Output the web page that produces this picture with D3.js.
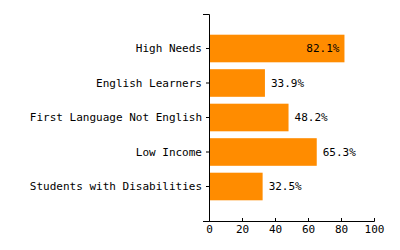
<!DOCTYPE html>
<html>
<head>
<meta charset="utf-8">
<script src="https://cdn.jsdelivr.net/npm/d3@7"></script>
<style>
  body { margin: 0; background: #fff; }
  text { font-family: "DejaVu Sans Mono", monospace; font-size: 11px; fill: #000; }
  .axis text { font-family: "DejaVu Sans Mono", monospace; font-size: 11px; }
</style>
</head>
<body>
<script>
var categories = ["High Needs", "English Learners", "First Language Not English", "Low Income", "Students with Disabilities"];
var values = [82.1, 33.9, 48.2, 65.3, 32.5];
var xTicks = [0, 20, 40, 60, 80, 100];

var svgWidth = 400;
var svgHeight = 250;
var margin = { top: 14, right: 26, bottom: 29, left: 209 };
var width = svgWidth - margin.left - margin.right;
var height = svgHeight - margin.top - margin.bottom;

var svg = d3.select("body")
  .append("svg")
  .attr("width", svgWidth)
  .attr("height", svgHeight)
  .append("g")
  .attr("transform", "translate(" + margin.left + "," + margin.top + ")");

var data = categories.map(function(c, i) { return { name: c, value: values[i] }; });

var x = d3.scaleLinear().domain([0, 100]).range([0, width]);
var y = d3.scaleBand().domain(categories).range([0, height])
  .paddingInner(0.2).paddingOuter(0.6);

// bars
svg.selectAll(".bar")
  .data(data)
  .enter().append("rect")
  .attr("class", "bar")
  .attr("x", 0)
  .attr("y", function(d) { return y(d.name); })
  .attr("width", function(d) { return x(d.value); })
  .attr("height", y.bandwidth())
  .attr("fill", "#ff8c00");

// value labels: inside the bar if it is long, otherwise just past its end
svg.selectAll(".label")
  .data(data)
  .enter().append("text")
  .attr("class", "label")
  .attr("x", function(d) { return d.value > 75 ? x(d.value) - 5 : x(d.value) + 6; })
  .attr("y", function(d) { return y(d.name) + y.bandwidth() / 2; })
  .attr("dy", "0.35em")
  .attr("text-anchor", function(d) { return d.value > 75 ? "end" : "start"; })
  .text(function(d) { return d.value.toFixed(1) + "%"; });

// y axis
svg.append("g")
  .attr("class", "axis")
  .call(d3.axisLeft(y).tickSizeInner(3).tickSizeOuter(6).tickPadding(4))
  .selectAll("text").attr("fill", "#000");

// x axis
svg.append("g")
  .attr("class", "axis")
  .attr("transform", "translate(0," + height + ")")
  .call(d3.axisBottom(x).tickValues(xTicks).tickSizeInner(-3).tickSizeOuter(-3).tickPadding(4))
  .selectAll("text").attr("fill", "#000");

svg.selectAll(".axis text").style("font-family", "'DejaVu Sans Mono', monospace").style("font-size", "11px");
</script>
</body>
</html>
